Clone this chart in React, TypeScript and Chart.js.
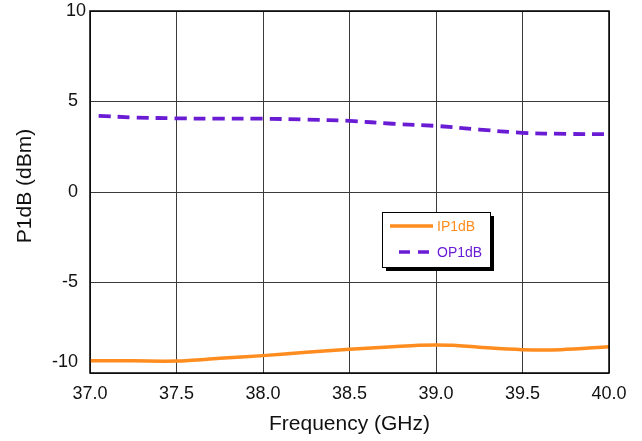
import React, { useEffect, useRef } from "react";
import { Chart, registerables } from "chart.js";

Chart.register(...registerables);

const ipFreq = [37.0, 37.25, 37.5, 37.75, 38.0, 38.25, 38.5, 38.75, 38.9, 39.0, 39.1, 39.25, 39.5, 39.72, 40.0];
const ipValues = [-9.32, -9.33, -9.34, -9.19, -9.04, -8.86, -8.69, -8.55, -8.47, -8.45, -8.47, -8.58, -8.71, -8.71, -8.55];

const opFreq = [37.05, 37.25, 37.5, 37.75, 38.0, 38.25, 38.5, 38.75, 39.0, 39.25, 39.5, 39.75, 40.0];
const opValues = [4.21, 4.12, 4.07, 4.05, 4.05, 4.0, 3.93, 3.77, 3.65, 3.45, 3.27, 3.21, 3.19];

const xTicks = [37.0, 37.5, 38.0, 38.5, 39.0, 39.5, 40.0];
const yTicks = [-10, -5, 0, 5, 10];

const seriesNames = ["IP1dB", "OP1dB"];
const seriesColors = ["#FF8C1E", "#6A1CD4"];
const yTitle = "P1dB (dBm)";
const xTitle = "Frequency (GHz)";

const FONT = "'Liberation Sans', Arial, sans-serif";

export default function App() {
  const ref = useRef<HTMLCanvasElement | null>(null);

  useEffect(() => {
    if (!ref.current) return;

    const framePlugin = {
      id: "frame",
      afterDraw(chart: any) {
        const { ctx, chartArea, scales } = chart;
        ctx.save();
        // frame
        ctx.strokeStyle = "#000";
        ctx.lineWidth = 1.5;
        ctx.strokeRect(chartArea.left, chartArea.top, chartArea.right - chartArea.left, chartArea.bottom - chartArea.top);
        // y tick labels
        const ys = scales.y;
        ctx.fillStyle = "#111";
        ctx.font = `18px ${FONT}`;
        ctx.textAlign = "right";
        ctx.textBaseline = "middle";
        yTicks.forEach((v) => {
          let py = ys.getPixelForValue(v);
          let px = chartArea.left - 12;
          if (v === yTicks[yTicks.length - 1]) px += 8;
          if (v === yTicks[0]) py -= 11;
          ctx.fillText(String(v), px, py);
        });
        // y title
        ctx.save();
        ctx.translate(25, (chartArea.top + chartArea.bottom) / 2 - 6);
        ctx.rotate(-Math.PI / 2);
        ctx.textAlign = "center";
        ctx.textBaseline = "middle";
        ctx.font = `21px ${FONT}`;
        ctx.fillText(yTitle, 0, 0);
        ctx.restore();
        // legend
        const bx = 382, by = 212, bw = 108, bh = 55;
        ctx.fillStyle = "#000";
        ctx.fillRect(bx + 4, by + 4, bw, bh);
        ctx.fillStyle = "#fff";
        ctx.fillRect(bx, by, bw, bh);
        ctx.strokeStyle = "#000";
        ctx.lineWidth = 1;
        ctx.strokeRect(bx + 0.5, by + 0.5, bw, bh);
        ctx.font = `14px ${FONT}`;
        ctx.textAlign = "left";
        ctx.textBaseline = "middle";
        // IP1dB
        ctx.strokeStyle = seriesColors[0];
        ctx.lineWidth = 3.5;
        ctx.setLineDash([]);
        ctx.beginPath();
        ctx.moveTo(390, 226);
        ctx.lineTo(433, 226);
        ctx.stroke();
        ctx.fillStyle = seriesColors[0];
        ctx.fillText(seriesNames[0], 437, 227);
        // OP1dB
        ctx.strokeStyle = seriesColors[1];
        ctx.setLineDash([11, 8]);
        ctx.beginPath();
        ctx.moveTo(399, 252);
        ctx.lineTo(432, 252);
        ctx.stroke();
        ctx.setLineDash([]);
        ctx.fillStyle = seriesColors[1];
        ctx.fillText(seriesNames[1], 437, 253);
        ctx.restore();
      },
    };

    const chart = new Chart(ref.current, {
      type: "line",
      data: {
        datasets: [
          {
            label: seriesNames[0],
            data: ipFreq.map((f, i) => ({ x: f, y: ipValues[i] })),
            borderColor: seriesColors[0],
            borderWidth: 3.5,
            pointRadius: 0,
            tension: 0.35,
            fill: false,
          },
          {
            label: seriesNames[1],
            data: opFreq.map((f, i) => ({ x: f, y: opValues[i] })),
            borderColor: seriesColors[1],
            borderWidth: 3.8,
            borderDash: [12, 7],
            pointRadius: 0,
            tension: 0.35,
            fill: false,
          },
        ],
      },
      options: {
        animation: false,
        responsive: false,
        maintainAspectRatio: false,
        layout: { padding: { top: 11, right: 33, left: 0, bottom: 0 } },
        plugins: { legend: { display: false }, tooltip: { enabled: false } },
        scales: {
          x: {
            type: "linear",
            min: 37,
            max: 40,
            afterBuildTicks: (s: any) => {
              s.ticks = xTicks.map((v) => ({ value: v }));
            },
            afterFit: (s: any) => {
              s.height = 68;
            },
            ticks: {
              color: "#111",
              font: { family: FONT, size: 18 },
              padding: 10,
              maxRotation: 0,
              autoSkip: false,
              callback: (v: any) => Number(v).toFixed(1),
            },
            grid: { color: "#3a3a3a", lineWidth: 1, drawTicks: false },
            border: { display: false },
            title: {
              display: true,
              text: xTitle,
              color: "#111",
              font: { family: FONT, size: 21 },
              padding: { top: 0, bottom: 4 },
            },
          },
          y: {
            type: "linear",
            min: -10,
            max: 10,
            afterBuildTicks: (s: any) => {
              s.ticks = yTicks.map((v) => ({ value: v }));
            },
            afterFit: (s: any) => {
              s.width = 90;
            },
            ticks: { display: false },
            grid: { color: "#3a3a3a", lineWidth: 1, drawTicks: false },
            border: { display: false },
            title: { display: false },
          },
        },
      },
      plugins: [framePlugin],
    });

    return () => chart.destroy();
  }, []);

  return (
    <div style={{ position: "fixed", left: 0, top: 0, width: 642, height: 441, background: "#fff" }}>
      <canvas ref={ref} width={642} height={441} style={{ display: "block" }} />
    </div>
  );
}
